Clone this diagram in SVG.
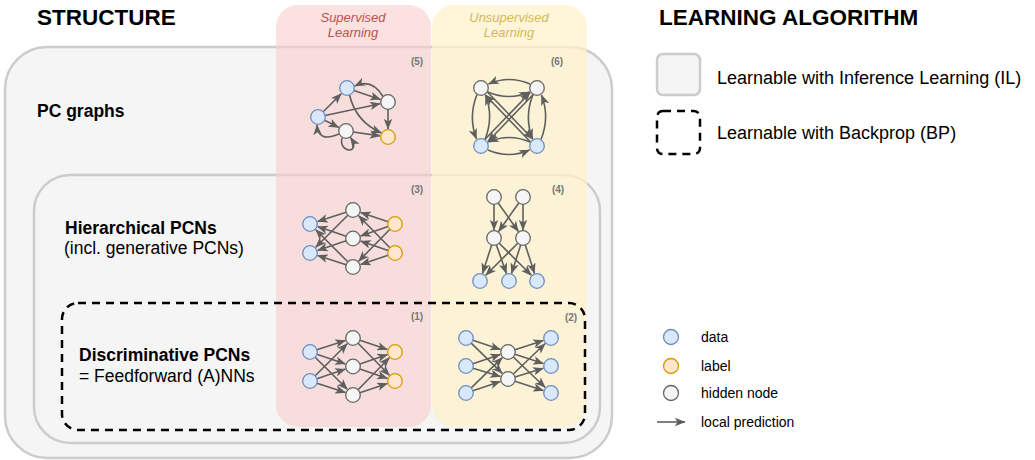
<svg xmlns="http://www.w3.org/2000/svg" width="1035" height="460" viewBox="0 0 1035 460">
<defs>
<marker id="ah" viewBox="0 0 10 8" markerWidth="11" markerHeight="8.6" refX="9.5" refY="4" orient="auto" markerUnits="userSpaceOnUse">
<path d="M0,0 L10,4 L0,8 L2.5,4 Z" fill="#5f5f5f"/>
</marker>
<style>
.box{fill:#f5f5f5;stroke:#cccccc;stroke-width:2.5}
.dash{fill:none;stroke:#000000;stroke-width:2.5;stroke-dasharray:8 6}
.e{fill:none;stroke:#5f5f5f;stroke-width:1.6;marker-end:url(#ah)}
.d{fill:#dae8fc;stroke:#6c8ebf;stroke-width:1.3}
.l{fill:#ffe6cc;stroke:#d79b00;stroke-width:1.3}
.h{fill:#f5f5f5;stroke:#666666;stroke-width:1.3}
.t{font-family:"Liberation Sans",Arial,sans-serif;fill:#000}
.b{font-weight:bold}
.num{font-family:"Liberation Sans",Arial,sans-serif;font-size:10px;font-weight:bold;fill:#777777;text-anchor:middle}
.hdr{font-family:"Liberation Sans",Arial,sans-serif;font-size:13px;font-style:italic;text-anchor:middle}
</style>
</defs>

<g id="titles">
<text class="t b" x="37" y="25" font-size="22.5">STRUCTURE</text>
<text class="t b" x="659" y="25" font-size="22.5">LEARNING ALGORITHM</text>
</g>

<g id="pc-graphs">
<rect class="box" x="5" y="47" width="607" height="411" rx="42"/>
<text class="t b" x="37" y="117" font-size="17.5">PC graphs</text>
</g>
<g id="hierarchical">
<rect class="box" x="34" y="175" width="566" height="268" rx="36"/>
<text class="t b" x="65" y="234" font-size="17.5">Hierarchical PCNs</text>
<text class="t" x="64" y="254" font-size="17.5">(incl. generative PCNs)</text>
</g>
<g id="discriminative">
<rect x="62" y="303" width="523" height="127" rx="16" fill="#f5f5f5"/>
<text class="t b" x="79" y="361" font-size="17.5">Discriminative PCNs</text>
<text class="t" x="79" y="382" font-size="17.5">= Feedforward (A)NNs</text>
</g>

<g id="supervised">
<rect x="276" y="5" width="155" height="422" rx="22" fill="#f8cecc" opacity="0.62"/>
<text class="hdr" x="353" y="22" fill="#b85450">Supervised</text>
<text class="hdr" x="353" y="37" fill="#b85450">Learning</text>
</g>
<g id="unsupervised">
<rect x="432" y="5" width="155" height="422" rx="22" fill="#fff2cc" opacity="0.72"/>
<text class="hdr" x="509" y="22" fill="#d6b656">Unsupervised</text>
<text class="hdr" x="509" y="37" fill="#d6b656">Learning</text>
</g>

<g id="discriminative-border">
<rect class="dash" x="62" y="303" width="523" height="127" rx="16"/>
</g>

<g id="connectors">
<!-- graph 5 -->
<path class="e" d="M323.2,111.8 L341.3,93.7"/>
<path class="e" d="M353.9,90.4 L380.4,99.4"/>
<path class="e" d="M383,96.5 Q372,78 354.7,86"/>
<path class="e" d="M325.1,115.5 L380.2,103.7"/>
<path class="e" d="M349.5,95 Q356,122 381.5,133"/>
<path class="e" d="M388,109.3 L388,129"/>
<path class="e" d="M324.5,120.3 L338.8,127.4"/>
<path class="e" d="M338.8,134 Q318,143 317,124.8"/>
<path class="e" d="M353.2,132 L380.1,135.9"/>
<path class="e" d="M342,138 C338,153 362,155 350.5,137.5"/>
<!-- graph 6 -->
<path class="e" d="M530,84 Q509,75 488.5,84"/>
<path class="e" d="M488,92 Q509,101 529.5,92"/>
<path class="e" d="M530,142 Q509,133 488.5,142"/>
<path class="e" d="M488,150 Q509,159 529.5,150"/>
<path class="e" d="M477,94.5 Q468,117 476.5,139"/>
<path class="e" d="M485,139.5 Q494,117 485.5,95"/>
<path class="e" d="M533,94.5 Q524,117 532.5,139"/>
<path class="e" d="M541,139.5 Q550,117 541.5,95"/>
<path class="e" d="M487.4,92 L532.7,139"/>
<path class="e" d="M530.6,142 L485.3,95"/>
<path class="e" d="M533.2,94.5 L487.9,141.5"/>
<path class="e" d="M484.8,139.5 L530.2,92.5"/>
<!-- graph 3 -->
<g transform="translate(0,-128)">
<path class="e" d="M388.1,349.7 L360.6,340.5"/>
<path class="e" d="M388.1,354.4 L360.6,363.9"/>
<path class="e" d="M389.9,357.2 L358.6,389.3"/>
<path class="e" d="M389.9,375.8 L358.6,343.7"/>
<path class="e" d="M388.1,378.6 L360.6,369.1"/>
<path class="e" d="M388.1,383.3 L360.6,392.5"/>
<path class="e" d="M346.1,340.3 L317.6,349.5"/>
<path class="e" d="M347.8,343.2 L315.7,375.3"/>
<path class="e" d="M346.1,364.2 L317.6,354.6"/>
<path class="e" d="M346.1,368.8 L317.6,378.4"/>
<path class="e" d="M347.8,389.8 L315.7,357.7"/>
<path class="e" d="M346.1,392.7 L317.6,383.5"/>
</g>
<!-- graph 4 -->
<path class="e" d="M494,204.3 L494,230"/>
<path class="e" d="M498.2,203 L518.4,231.5"/>
<path class="e" d="M518.8,203 L498.6,231.5"/>
<path class="e" d="M523,204.3 L523,230"/>
<path class="e" d="M491.7,244.9 L482.5,273.4"/>
<path class="e" d="M496.4,244.9 L506.4,273.4"/>
<path class="e" d="M499.2,243.2 L531.3,275.3"/>
<path class="e" d="M517.8,243.2 L485.7,275.3"/>
<path class="e" d="M520.7,244.9 L511.5,273.4"/>
<path class="e" d="M525.3,244.9 L534.5,273.4"/>
<!-- graph 1 -->
<path class="e" d="M316.9,349.7 L345.4,340.5"/>
<path class="e" d="M316.9,354.3 L345.4,363.9"/>
<path class="e" d="M315.2,357.2 L347.3,389.3"/>
<path class="e" d="M315.2,375.8 L347.3,343.7"/>
<path class="e" d="M316.9,378.7 L345.4,369.1"/>
<path class="e" d="M316.9,383.3 L345.4,392.5"/>
<path class="e" d="M359.9,340.3 L387.4,349.5"/>
<path class="e" d="M358.1,343.2 L389.4,375.3"/>
<path class="e" d="M359.9,364.1 L387.4,354.6"/>
<path class="e" d="M359.9,368.9 L387.4,378.4"/>
<path class="e" d="M358.1,389.8 L389.4,357.7"/>
<path class="e" d="M359.9,392.7 L387.4,383.5"/>
<!-- graph 2 -->
<path class="e" d="M472.9,340.3 L500.4,349.5"/>
<path class="e" d="M471.2,343.1 L502.3,373.4"/>
<path class="e" d="M472.9,363.7 L500.4,354.5"/>
<path class="e" d="M473,368.2 L500.4,376.6"/>
<path class="e" d="M471.2,387.9 L502.3,357.6"/>
<path class="e" d="M472.9,390.7 L500.4,381.5"/>
<path class="e" d="M514.9,349.7 L543.4,340.5"/>
<path class="e" d="M514.9,354.3 L543.4,363.5"/>
<path class="e" d="M513.3,357 L545.2,387.5"/>
<path class="e" d="M513.3,374 L545.2,343.5"/>
<path class="e" d="M515,376.9 L543.3,368.3"/>
<path class="e" d="M514.9,381.3 L543.4,390.5"/>
</g>

<g id="graph5">
<text class="num" x="417" y="65">(5)</text>
<circle class="d" cx="347" cy="88" r="7.3"/>
<circle class="d" cx="318" cy="117" r="7.3"/>
<circle class="h" cx="388" cy="102" r="7.3"/>
<circle class="h" cx="346" cy="131" r="7.3"/>
<circle class="l" cx="388" cy="137" r="7.3"/>
</g>
<g id="graph6">
<text class="num" x="557" y="65">(6)</text>
<circle class="h" cx="481" cy="88" r="7.3"/>
<circle class="h" cx="537" cy="88" r="7.3"/>
<circle class="d" cx="481" cy="146" r="7.3"/>
<circle class="d" cx="537" cy="146" r="7.3"/>
</g>
<g id="graph3">
<text class="num" x="417" y="193">(3)</text>
<circle class="d" cx="310" cy="224" r="7.3"/>
<circle class="d" cx="310" cy="253" r="7.3"/>
<circle class="h" cx="353" cy="210" r="7.3"/>
<circle class="h" cx="353" cy="238.5" r="7.3"/>
<circle class="h" cx="353" cy="267" r="7.3"/>
<circle class="l" cx="395" cy="224" r="7.3"/>
<circle class="l" cx="395" cy="253" r="7.3"/>
</g>
<g id="graph4">
<text class="num" x="558" y="193">(4)</text>
<circle class="h" cx="494" cy="197" r="7.3"/>
<circle class="h" cx="523" cy="197" r="7.3"/>
<circle class="h" cx="494" cy="238" r="7.3"/>
<circle class="h" cx="523" cy="238" r="7.3"/>
<circle class="d" cx="480" cy="281" r="7.3"/>
<circle class="d" cx="509" cy="281" r="7.3"/>
<circle class="d" cx="537" cy="281" r="7.3"/>
</g>
<g id="graph1">
<text class="num" x="417" y="320">(1)</text>
<circle class="d" cx="310" cy="352" r="7.3"/>
<circle class="d" cx="310" cy="381" r="7.3"/>
<circle class="h" cx="353" cy="338" r="7.3"/>
<circle class="h" cx="353" cy="366.5" r="7.3"/>
<circle class="h" cx="353" cy="395" r="7.3"/>
<circle class="l" cx="395" cy="352" r="7.3"/>
<circle class="l" cx="395" cy="381" r="7.3"/>
</g>
<g id="graph2">
<text class="num" x="571" y="321">(2)</text>
<circle class="d" cx="466" cy="338" r="7.3"/>
<circle class="d" cx="466" cy="366" r="7.3"/>
<circle class="d" cx="466" cy="393" r="7.3"/>
<circle class="h" cx="508" cy="352" r="7.3"/>
<circle class="h" cx="508" cy="379" r="7.3"/>
<circle class="d" cx="551" cy="338" r="7.3"/>
<circle class="d" cx="551" cy="366" r="7.3"/>
<circle class="d" cx="551" cy="393" r="7.3"/>
</g>

<g id="legend-il">
<rect class="box" x="657" y="54" width="43" height="41" rx="6"/>
<text class="t" x="717" y="84" font-size="18">Learnable with Inference Learning (IL)</text>
</g>
<g id="legend-bp">
<rect class="dash" x="657" y="111" width="43" height="43" rx="6"/>
<text class="t" x="717" y="139" font-size="18">Learnable with Backprop (BP)</text>
</g>
<g id="legend-data">
<circle class="d" cx="671" cy="337" r="7.5"/>
<text class="t" x="701" y="342" font-size="14">data</text>
</g>
<g id="legend-label">
<circle class="l" cx="671" cy="366" r="7.5"/>
<text class="t" x="701" y="371" font-size="14">label</text>
</g>
<g id="legend-hidden">
<circle class="h" cx="671" cy="393" r="7.5"/>
<text class="t" x="701" y="398" font-size="14">hidden node</text>
</g>
<g id="legend-arrow">
<path class="e" d="M657,422 L685,422"/>
<text class="t" x="701" y="427" font-size="14">local prediction</text>
</g>
</svg>
